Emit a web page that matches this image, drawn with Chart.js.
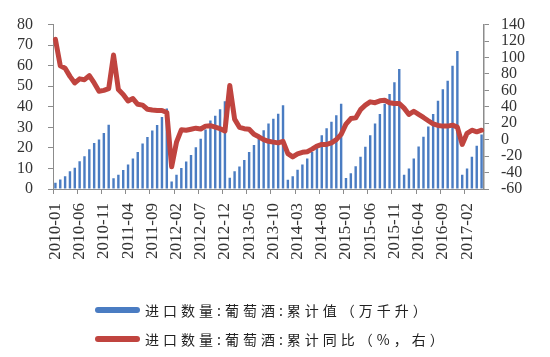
<!DOCTYPE html>
<html><head><meta charset="utf-8">
<script src="https://cdn.jsdelivr.net/npm/chart.js@4.4.0/dist/chart.umd.min.js"></script>
<style>
html,body{margin:0;padding:0;background:#fff;}
#wrap{position:relative;width:550px;height:357px;overflow:hidden;}
#legend{position:absolute;left:95px;top:295px;font-family:"Noto Sans CJK SC";font-size:14px;color:#222;letter-spacing:4px;}
.row{display:flex;align-items:center;height:29px;white-space:nowrap;}
.sw{width:45px;height:6px;margin-right:5px;border-radius:3px;flex:none;}
</style></head>
<body>
<div id="wrap">
<canvas id="c" width="550" height="357"></canvas>
<div id="legend"></div>
</div>
<script>
const categories = [
"2010-01","2010-02","2010-03","2010-04","2010-05","2010-06","2010-07","2010-08","2010-09","2010-10","2010-11","2010-12",
"2011-01","2011-02","2011-03","2011-04","2011-05","2011-06","2011-07","2011-08","2011-09","2011-10","2011-11","2011-12",
"2012-01","2012-02","2012-03","2012-04","2012-05","2012-06","2012-07","2012-08","2012-09","2012-10","2012-11","2012-12",
"2013-01","2013-02","2013-03","2013-04","2013-05","2013-06","2013-07","2013-08","2013-09","2013-10","2013-11","2013-12",
"2014-01","2014-02","2014-03","2014-04","2014-05","2014-06","2014-07","2014-08","2014-09","2014-10","2014-11","2014-12",
"2015-01","2015-02","2015-03","2015-04","2015-05","2015-06","2015-07","2015-08","2015-09","2015-10","2015-11","2015-12",
"2016-01","2016-02","2016-03","2016-04","2016-05","2016-06","2016-07","2016-08","2016-09","2016-10","2016-11","2016-12",
"2017-01","2017-02","2017-03","2017-04","2017-05"];

const cumulativeVolume = [
3.0,4.6,6.2,8.6,10.4,13.5,15.9,19.3,22.4,24.1,27.3,31.3,
5.2,6.9,9.2,11.9,14.9,18.0,22.2,25.3,28.5,31.1,35.0,39.2,
3.7,6.9,10.2,13.4,16.5,20.3,24.5,29.0,33.3,35.7,38.8,42.7,
5.5,8.6,10.9,14.1,18.0,21.4,24.6,28.6,31.9,34.2,36.6,40.7,
4.5,6.2,9.4,11.9,14.9,18.0,21.9,26.2,29.6,32.7,35.9,41.5,
5.3,7.7,11.1,15.7,20.6,26.1,31.9,36.5,41.5,46.2,51.9,58.4,
6.9,10.0,14.9,20.7,25.4,30.4,36.5,43.0,48.6,52.7,60.0,67.1,
6.9,10.0,15.7,21.1,26.5];

const cumulativeYoY = [
122,90,87,77,69,74,73,78,69,59,60,62,
103,61,55,47,50,43,42,37,36,35.5,35.5,33,
-33,-3,12,11.5,12.7,14,13,16.5,17,15.3,13.4,10.4,
66,25,15,13.4,12.7,6.5,3.5,0,-2,-3,-3.9,-2,
-17,-21,-17.3,-15.4,-14.6,-11.5,-7.7,-5.8,-5.8,-3.9,0,6.5,
19,25.7,26.5,36.5,42,46,45,47.3,48,45,44,44,
38.4,30.7,34.6,30.7,27,23,19.2,17.3,16.5,16.5,17.7,15.3,
-5.8,7.7,11.5,9.6,11.5];

const leftTicks = {min:0, max:80, step:10};
const rightTicks = {min:-60, max:140, step:20};
const seriesNames = ["进口数量:葡萄酒:累计值（万千升）","进口数量:葡萄酒:累计同比（%，右）"];
const barColor = "#4a7cc2";
const lineColor = "#c0443f";

const axisGray = "#8c8c8c";
const tickFont = {family:"'Liberation Serif', serif", size:16};
const xFont = {family:"'Liberation Serif', serif", size:17};

new Chart(document.getElementById('c'), {
  data: {
    labels: categories,
    datasets: [
      {type:'bar', label:seriesNames[0], data:cumulativeVolume, yAxisID:'y',
       backgroundColor:barColor, barPercentage:0.5, categoryPercentage:1.0, order:1},
      {type:'line', label:seriesNames[1], data:cumulativeYoY, yAxisID:'y1',
       borderColor:lineColor, borderWidth:5, pointRadius:0, tension:0, order:0,
       borderJoinStyle:'round', borderCapStyle:'round'}
    ]
  },
  options: {
    responsive:false, animation:false,
    layout:{padding:{top:16, bottom:86, left:0, right:0}},
    plugins:{legend:{display:false}, tooltip:{enabled:false}},
    scales:{
      x:{
        type:'category', offset:true,
        grid:{offset:true, drawOnChartArea:false, tickLength:5,
              color:(ctx)=> (ctx.index % 5 === 0 ? axisGray : 'rgba(0,0,0,0)')},
        border:{color:axisGray},
        ticks:{autoSkip:false, maxRotation:90, minRotation:90, padding:9, color:'#333', font:xFont,
               callback:(v,i)=> (i % 5 === 0 ? categories[i] : '')},
        afterFit:(s)=>{s.height = 82;}
      },
      y:{
        position:'left', min:leftTicks.min, max:leftTicks.max,
        grid:{drawOnChartArea:false, tickLength:5, color:axisGray},
        border:{color:axisGray},
        ticks:{stepSize:leftTicks.step, autoSkip:false, padding:15, color:'#333', font:tickFont},
        afterFit:(s)=>{s.width = 53;}
      },
      y1:{
        position:'right', min:rightTicks.min, max:rightTicks.max,
        grid:{drawOnChartArea:false, tickLength:5, color:axisGray},
        border:{color:axisGray, width:1.5},
        ticks:{stepSize:rightTicks.step, autoSkip:false, padding:12, color:'#333', font:tickFont},
        afterFit:(s)=>{s.width = 66;}
      }
    }
  }
});

const lg = document.getElementById('legend');
[[barColor, seriesNames[0]],[lineColor, seriesNames[1]]].forEach(([c,t])=>{
  const r = document.createElement('div'); r.className='row';
  const s = document.createElement('span'); s.className='sw'; s.style.background=c;
  const tx = document.createElement('span'); tx.textContent=t;
  r.appendChild(s); r.appendChild(tx); lg.appendChild(r);
});
</script>
</body></html>
